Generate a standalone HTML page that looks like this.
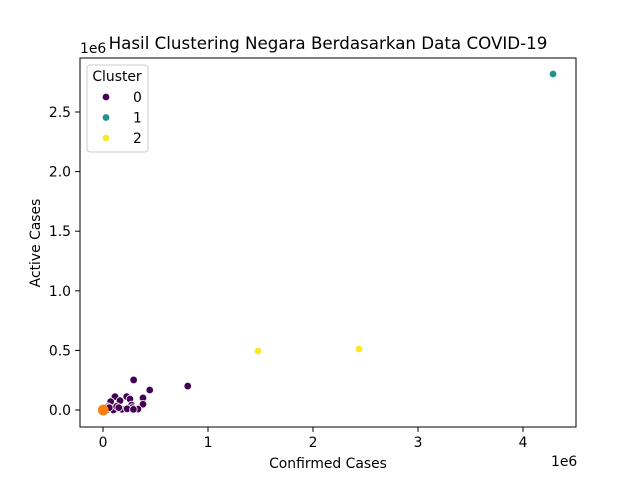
<!DOCTYPE html>
<html><head><meta charset="utf-8"><style>
body{margin:0;background:#fff}
svg{font-family:"DejaVu Sans","Liberation Sans",sans-serif}
</style></head><body>
<svg id="c" width="640" height="480"></svg>
<script>
const c0x=[0.292,0.445,0.807,0.114,0.226,0.257,0.381,0.073,0.162,0.273,0.381,0.048,0.098,0.21,0.333,0.035,0.01,0.02,0.05,0.06,0.265,0.28,0.18,0.23,0.29,0.13,0.15];
const c0y=[0.252,0.168,0.201,0.112,0.112,0.092,0.101,0.070,0.078,0.042,0.048,0.028,0.0,0.008,0.008,0.0,0.01,0.005,0.015,0.02,0.01,0.02,0.005,0.01,0.005,0.03,0.02];
const c1x=[4.286], c1y=[2.819];
const c2x=[1.476,2.438], c2y=[0.495,0.512];
const ox=[0.003], oy=[0.0];
const xTicks=[0,1,2,3,4], yTicks=[0.0,0.5,1.0,1.5,2.0,2.5];
const yLabels=["0.0","0.5","1.0","1.5","2.0","2.5"];
const colors=["#440154","#21918c","#fde725"];
const L=80,R=576,T=58,B=427;
const FS=13.9;
const X=v=>103+v*105, Y=v=>410-v*119.2;
const NS="http://www.w3.org/2000/svg", svg=document.getElementById('c');
function mk(t,a,p){const e=document.createElementNS(NS,t);for(const k in a)e.setAttribute(k,a[k]);(p||svg).appendChild(e);return e;}
function txt(s,a){const e=mk('text',a);e.textContent=s;return e;}
let e=mk('rect',{x:L,y:T,width:R-L,height:B-T,fill:'none',stroke:'#000','stroke-width':1});


xTicks.forEach(v=>{mk('line',{x1:X(v),x2:X(v),y1:B,y2:B+4.9,stroke:'#000','stroke-width':1});
 const t=txt(String(v),{x:X(v),y:B+20,'font-size':FS,'text-anchor':'middle'});
 
 });
yTicks.forEach((v,i)=>{mk('line',{x1:L-4.9,x2:L,y1:Y(v),y2:Y(v),stroke:'#000','stroke-width':1});
 const t=txt(yLabels[i],{x:L-9,y:Y(v)+5,'font-size':FS,'text-anchor':'end'});
 
 });
function pts(xs,ys,col,r,stroke,name){xs.forEach((x,i)=>{const p=mk('circle',{cx:X(x),cy:Y(ys[i]),r:r,fill:col,stroke:stroke,'stroke-width':0.8});
 
 });}
pts(c0x,c0y,colors[0],3.8,'#fff','point-cluster-0');
pts(c1x,c1y,colors[1],3.8,'#fff','point-cluster-1');
pts(c2x,c2y,colors[2],3.8,'#fff','point-cluster-2');
pts(ox,oy,'#ff7f0e',5,'#ff7f0e','point-highlight');
e=txt('Hasil Clustering Negara Berdasarkan Data COVID-19',{x:328,y:49,'font-size':16.7,'text-anchor':'middle'});


e=txt('Confirmed Cases',{x:328,y:468,'font-size':FS,'text-anchor':'middle'});


e=txt('Active Cases',{x:0,y:0,'font-size':FS,'text-anchor':'middle',transform:'translate(40,243) rotate(-90)'});


e=txt('1e6',{x:80,y:53,'font-size':FS});


e=txt('1e6',{x:551,y:466,'font-size':FS});


const g=mk('g',{});


mk('rect',{x:87,y:65,width:61,height:87,rx:3,fill:'#fff',stroke:'#ccc','stroke-width':1},g);
let t=mk('text',{x:117,y:81,'font-size':FS,'text-anchor':'middle'},g);t.textContent='Cluster';
['0','1','2'].forEach((s,i)=>{const gy=97+i*20.5;
 const en=mk('g',{},g);
 
 
 mk('circle',{cx:106,cy:gy,r:3.8,fill:colors[i],stroke:'#fff','stroke-width':0.8},en);
 const tt=mk('text',{x:133,y:gy+5,'font-size':FS},en);tt.textContent=s;});
</script>
</body></html>
